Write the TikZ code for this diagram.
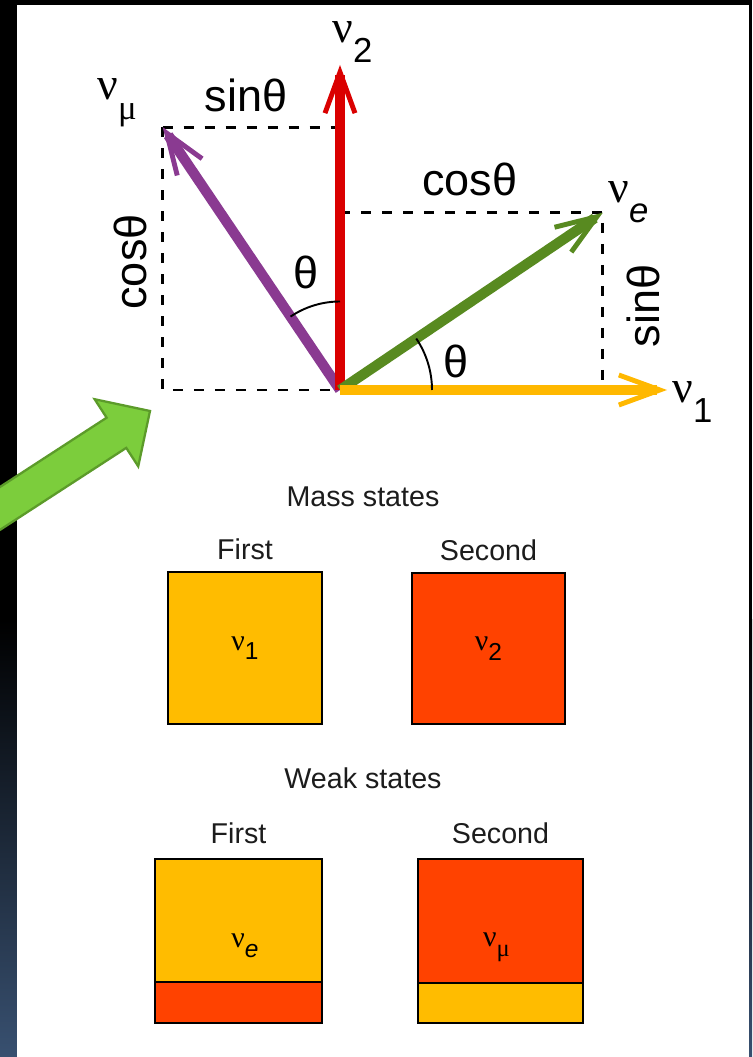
\documentclass[tikz,border=0pt]{standalone}
\usepackage{fontspec}
\setmainfont{Liberation Sans}
\newfontfamily\greekfont{Liberation Serif}
\usepackage{tikz}
\usetikzlibrary{calc,arrows.meta,positioning,angles,quotes}
\definecolor{mixRed}{RGB}{218,0,0}
\definecolor{mixYellow}{RGB}{255,184,0}
\definecolor{mixGreen}{RGB}{88,138,32}
\definecolor{mixPurple}{RGB}{138,58,145}
\definecolor{boxYellow}{RGB}{255,188,0}
\definecolor{boxRed}{RGB}{255,66,0}
\definecolor{hintGreen}{RGB}{124,205,60}
\definecolor{hintGreenDark}{RGB}{92,155,42}
\definecolor{slideBlue}{RGB}{56,80,112}
\definecolor{txtgray}{RGB}{28,28,28}
\newcommand{\nubig}[1]{{\greekfont ν}\raisebox{-11pt}{\scalebox{0.76}{#1}}}
\newcommand{\nubox}[1]{{\greekfont ν}\raisebox{-5.5pt}{\scalebox{0.82}{#1}}}

\begin{document}
\begin{tikzpicture}[scale=1,
  vec/.style={line width=5.8pt, -{Straight Barb[length=0.82cm,width=0.6cm,line width=2.8pt]}},
  proj/.style={line width=1.5pt, dash pattern=on 0.2cm off 0.22cm},
  biglab/.style={inner sep=0, font=\fontsize{26}{30}\selectfont},
  trig/.style={inner sep=0, font=\fontsize{25.6}{30}\selectfont},
  smalltxt/.style={inner sep=0, text=txtgray, font=\fontsize{16.3}{19}\selectfont},
  boxlab/.style={inner sep=0, font=\fontsize{17}{20}\selectfont},
  statebox/.style={draw=black, line width=1.4pt, outer sep=0, inner sep=0}]

\useasboundingbox (-6.8,7.8) rectangle (8.24,-13.34);
\clip (-6.8,7.8) rectangle (8.24,-13.34);
\fill[black] (-6.8,7.8) rectangle (8.24,-13.34);
\shade[top color=black, bottom color=slideBlue] (-6.8,-4.6) rectangle (8.24,-13.34);
\fill[white] (-6.46,7.7) rectangle (8.18,-13.34);

\coordinate (O) at (0,0);
\coordinate (t1) at (0:6.54);
\coordinate (t2) at (90:6.5);
\coordinate (te) at (34:6.34);
\coordinate (tmu) at (124:6.34);

\draw[proj] (tmu) -- (tmu -| O);
\draw[proj] (tmu) -- (tmu |- O) -- (O);
\draw[proj] (te -| O) -- (te) -- (te |- O);

\foreach \tip/\col in {tmu/mixPurple, t2/mixRed, te/mixGreen, t1/mixYellow}
{
    \draw[vec, \col] (O) -- (\tip);
}

\pic[draw, line width=1.1pt, angle radius=1.84cm] {angle=t1--O--te};
\pic[draw, line width=1.1pt, angle radius=1.77cm] {angle=t2--O--tmu};

\node[biglab, anchor=base west] (l2) at (-0.16,6.94) {\nubig{2}};
\node[biglab, anchor=base west] (lmu) at (-4.86,5.8) {\nubig{{\greekfont μ}}};
\node[biglab, anchor=base west] (le) at (5.36,3.74) {\nubig{\textit{e}}};
\node[biglab, anchor=base west] (l1) at (6.64,-0.26) {\nubig{1}};

\node[trig] (smu) at (-1.88,5.9) {sinθ};
\node[trig, rotate=90] (cmu) at (-4.2,2.56) {cosθ};
\node[trig] (ce) at (2.6,4.22) {cosθ};
\node[trig, rotate=90] (se) at (6.06,1.68) {sinθ};
\node[trig] (a1) at (2.32,0.58) {θ};
\node[trig] (a2) at (-0.68,2.36) {θ};

\begin{scope}[shift={(-3.8,-0.42)}, rotate=33]
\draw[hintGreenDark, fill=hintGreen, line width=1.3pt] (0,0) -- (-0.8,0.8) -- (-0.8,0.36) -- (-7,0.36) -- (-7,-0.36) -- (-0.8,-0.36) -- (-0.8,-0.8) -- cycle;
\end{scope}

\node[smalltxt, anchor=base] (mass) at (0.46,-2.34) {Mass states};
\node[statebox, fill=boxYellow, minimum width=3.08cm, minimum height=3.04cm] (m1) at (-1.9,-5.16) {};
\node[statebox, fill=boxRed, minimum width=3.06cm, minimum height=3.02cm] (m2) at (2.97,-5.17) {};
\node[smalltxt, above=0.24cm of m1, anchor=base] (m1t) {First};
\node[smalltxt, above=0.24cm of m2, anchor=base] (m2t) {Second};
\node[boxlab] (m1n) at (m1) {\nubox{1}};
\node[boxlab] (m2n) at (m2) {\nubox{2}};

\node[smalltxt, anchor=base] (weak) at (0.46,-7.96) {Weak states};
\node[statebox, fill=boxYellow, minimum width=3.34cm, minimum height=3.28cm] (w1) at (-2.03,-11.02) {};
\draw[statebox, fill=boxRed] (w1.south west) rectangle ($(w1.south east)+(0,0.82)$);
\node[statebox, fill=boxRed, minimum width=3.3cm, minimum height=3.28cm] (w2) at (3.21,-11.02) {};
\draw[statebox, fill=boxYellow] (w2.south west) rectangle ($(w2.south east)+(0,0.8)$);
\node[smalltxt, above=0.32cm of w1, anchor=base] (w1t) {First};
\node[smalltxt, above=0.32cm of w2, anchor=base] (w2t) {Second};
\node[boxlab] (w1n) at ($(w1.center)+(0.13,-0.1)$) {\nubox{\textit{e}}};
\node[boxlab] (w2n) at ($(w2.center)+(-0.08,-0.12)$) {\nubox{{\greekfont μ}}};
\end{tikzpicture}
\end{document}
